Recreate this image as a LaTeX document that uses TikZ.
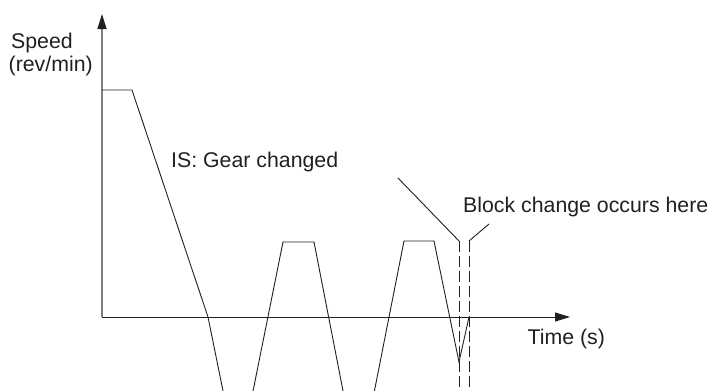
\documentclass[tikz,border=0pt]{standalone}
\usepackage{fontspec}
\setmainfont{Liberation Sans}
\usetikzlibrary{arrows.meta}
\definecolor{ink}{HTML}{231F20}
\definecolor{axisgray}{HTML}{808080}
\tikzset{
  lbl/.style={inner sep=0pt, anchor=base west, text=ink, font=\fontsize{21.3}{23}\selectfont},
  curve/.style={draw=ink, line width=0.9pt, line join=miter},
  guide/.style={draw=ink, line width=0.9pt, dash pattern=on 11pt off 4pt},
  axistip/.style={-{Triangle[length=15pt,width=9pt,color=ink]}}
}
\begin{document}
\begin{tikzpicture}[x=1pt,y=-1pt]
\useasboundingbox (0,0) rectangle (710,391);
\clip (0,0) rectangle (710,391);
% axes
\coordinate (origin) at (102,317);
\coordinate (ytip) at (102,14);
\coordinate (xtip) at (570,317);
\draw[axisgray, line width=1.5pt, axistip] (origin) -- (ytip);
\draw[ink, line width=1pt, axistip] (origin) -- (xtip);
% speed curve
\draw[curve] (102,90) -- (132,90) -- (208,317) -- (228.9,420)
  -- (247.2,420) -- (283,242) -- (314,242) -- (348.7,420)
  -- (368.7,420) -- (404,241) -- (434,241) -- (459,362) -- (469,317);
% dashed guides
\coordinate (g1top) at (459,241);
\coordinate (g2top) at (469,241);
\coordinate (g1bot) at (459,395);
\coordinate (g2bot) at (469,395);
\draw[guide] (g1top) -- (g1bot);
\draw[guide] (g2top) -- (g2bot);
% pointer lines
\coordinate (p1) at (398,178);
\coordinate (p2) at (489,224);
\draw[curve] (p1) -- (g1top);
\draw[curve] (g2top) -- (p2);
% labels
\node[lbl] (speed) at (11,48) {Speed};
\node[lbl] (revmin) at (8.5,71) {(rev/min)};
\node[lbl] (gear) at (171,167) {IS: Gear changed};
\node[lbl] (block) at (463,212) {Block change occurs here};
\node[lbl] (time) at (527.5,344) {Time (s)};
\end{tikzpicture}
\end{document}
